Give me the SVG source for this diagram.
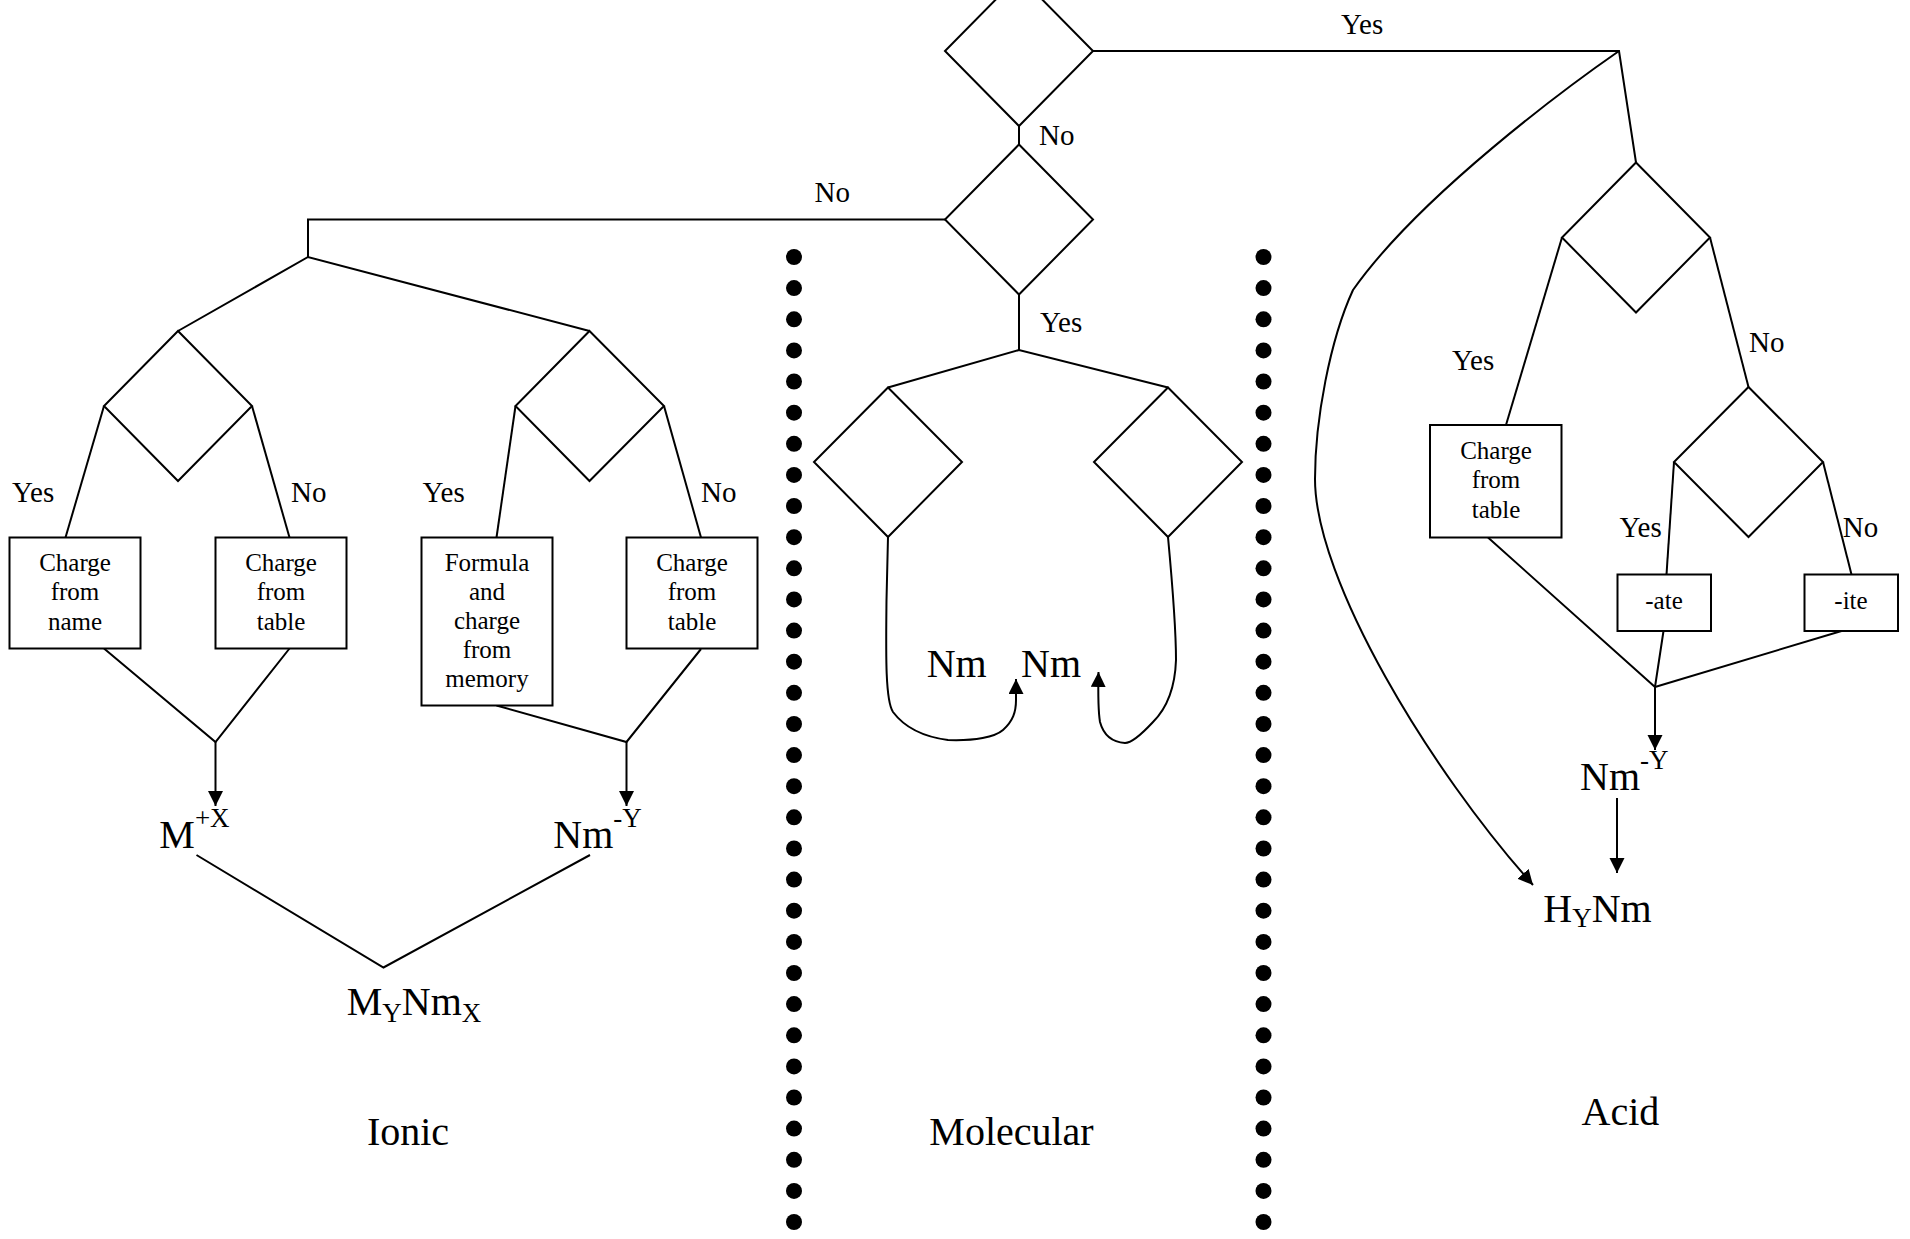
<svg xmlns="http://www.w3.org/2000/svg" width="1910" height="1239" viewBox="0 0 1910 1239">
<style>
  .shape{fill:#fff;stroke:#000;stroke-width:2}
  .ln{fill:none;stroke:#000;stroke-width:2}
  text{font-family:"Liberation Serif","Times New Roman",serif;fill:#000}
  .bt{font-size:25px;text-anchor:middle}
  .lb{font-size:29px}
  .big{font-size:40px}
  .sm{font-size:27px}
</style>
<defs>
  <marker id="arr" markerUnits="userSpaceOnUse" markerWidth="16" markerHeight="16" refX="15" refY="7.5" orient="auto">
    <path d="M0,0 L15,7.5 L0,15 z" fill="#000"/>
  </marker>
  <circle id="dot" r="8" fill="#000"/>
</defs>
<rect width="1910" height="1239" fill="#fff"/>

<g id="connectors">
  <path class="ln" d="M1019,126 L1019,144.5"/>
  <path class="ln" d="M1093,51 L1619,51 L1636,162.5"/>
  <path class="ln" marker-end="url(#arr)" d="M1619,51 C1570,85 1420,195 1353,290 C1330,340 1315,420 1315,479 C1315,580 1430,770 1533,885"/>
  <path class="ln" d="M945,219.5 L308,219.5 L308,257"/>
  <path class="ln" d="M178,331 L308,257 L589.5,331"/>
  <path class="ln" d="M104,406 L65.5,537.5"/>
  <path class="ln" d="M252,406 L289.5,537.5"/>
  <path class="ln" d="M515.5,406 L496.5,537.5"/>
  <path class="ln" d="M664,406 L701,537.5"/>
  <path class="ln" d="M104,648.5 L215.5,742 L289.5,648.5"/>
  <path class="ln" marker-end="url(#arr)" d="M215.5,742 L215.5,806"/>
  <path class="ln" d="M496.5,705.5 L626.5,742 L701,649"/>
  <path class="ln" marker-end="url(#arr)" d="M626.5,742 L626.5,806"/>
  <path class="ln" d="M196.5,855 L383.5,967.5 L590,855"/>
  <path class="ln" d="M1019,294.5 L1019,350"/>
  <path class="ln" d="M888,387.5 L1019,350 L1168,387.5"/>
  <path class="ln" marker-end="url(#arr)" d="M888,537 L886.5,600 C886,650 885,700 893,712 C905,728 925,737 948,740 C975,741 995,737 1003,730 C1013,721 1016,712 1016,700 L1016,679"/>
  <path class="ln" marker-end="url(#arr)" d="M1168,537 C1172,580 1176,630 1176,660 C1175,690 1165,710 1153,722 C1140,736 1130,743 1125,743 C1110,742 1103,733 1100,722 C1098,710 1098,695 1098.5,672"/>
  <path class="ln" d="M1562,237.5 L1506,425"/>
  <path class="ln" d="M1710,237.5 L1748.5,387"/>
  <path class="ln" d="M1674,462 L1666.5,574.5"/>
  <path class="ln" d="M1823,462 L1851.5,574.5"/>
  <path class="ln" d="M1488,537.5 L1655,687 L1663.5,631"/>
  <path class="ln" d="M1655,687 L1841.5,631"/>
  <path class="ln" marker-end="url(#arr)" d="M1655,687 L1655,750"/>
  <path class="ln" marker-end="url(#arr)" d="M1617,798 L1617,873"/>
</g>

<g id="separators">
  <g id="sep-left">
    <use href="#dot" x="794" y="257"/><use href="#dot" x="794" y="288.1"/><use href="#dot" x="794" y="319.3"/><use href="#dot" x="794" y="350.4"/>
    <use href="#dot" x="794" y="381.5"/><use href="#dot" x="794" y="412.7"/><use href="#dot" x="794" y="443.8"/><use href="#dot" x="794" y="474.9"/>
    <use href="#dot" x="794" y="506"/><use href="#dot" x="794" y="537.2"/><use href="#dot" x="794" y="568.3"/><use href="#dot" x="794" y="599.4"/>
    <use href="#dot" x="794" y="630.6"/><use href="#dot" x="794" y="661.7"/><use href="#dot" x="794" y="692.8"/><use href="#dot" x="794" y="724"/>
    <use href="#dot" x="794" y="755.1"/><use href="#dot" x="794" y="786.2"/><use href="#dot" x="794" y="817.3"/><use href="#dot" x="794" y="848.5"/>
    <use href="#dot" x="794" y="879.6"/><use href="#dot" x="794" y="910.7"/><use href="#dot" x="794" y="941.9"/><use href="#dot" x="794" y="973"/>
    <use href="#dot" x="794" y="1004.1"/><use href="#dot" x="794" y="1035.3"/><use href="#dot" x="794" y="1066.4"/><use href="#dot" x="794" y="1097.5"/>
    <use href="#dot" x="794" y="1128.6"/><use href="#dot" x="794" y="1159.8"/><use href="#dot" x="794" y="1190.9"/><use href="#dot" x="794" y="1222"/>
  </g>
  <g id="sep-right">
    <use href="#dot" x="1263.5" y="257"/><use href="#dot" x="1263.5" y="288.1"/><use href="#dot" x="1263.5" y="319.3"/><use href="#dot" x="1263.5" y="350.4"/>
    <use href="#dot" x="1263.5" y="381.5"/><use href="#dot" x="1263.5" y="412.7"/><use href="#dot" x="1263.5" y="443.8"/><use href="#dot" x="1263.5" y="474.9"/>
    <use href="#dot" x="1263.5" y="506"/><use href="#dot" x="1263.5" y="537.2"/><use href="#dot" x="1263.5" y="568.3"/><use href="#dot" x="1263.5" y="599.4"/>
    <use href="#dot" x="1263.5" y="630.6"/><use href="#dot" x="1263.5" y="661.7"/><use href="#dot" x="1263.5" y="692.8"/><use href="#dot" x="1263.5" y="724"/>
    <use href="#dot" x="1263.5" y="755.1"/><use href="#dot" x="1263.5" y="786.2"/><use href="#dot" x="1263.5" y="817.3"/><use href="#dot" x="1263.5" y="848.5"/>
    <use href="#dot" x="1263.5" y="879.6"/><use href="#dot" x="1263.5" y="910.7"/><use href="#dot" x="1263.5" y="941.9"/><use href="#dot" x="1263.5" y="973"/>
    <use href="#dot" x="1263.5" y="1004.1"/><use href="#dot" x="1263.5" y="1035.3"/><use href="#dot" x="1263.5" y="1066.4"/><use href="#dot" x="1263.5" y="1097.5"/>
    <use href="#dot" x="1263.5" y="1128.6"/><use href="#dot" x="1263.5" y="1159.8"/><use href="#dot" x="1263.5" y="1190.9"/><use href="#dot" x="1263.5" y="1222"/>
  </g>
</g>

<g id="labels">
  <text class="lb" x="1341" y="33.5">Yes</text>
  <text class="lb" x="1039" y="145">No</text>
  <text class="lb" x="814.5" y="201.5">No</text>
  <text class="lb" x="1040" y="332">Yes</text>
  <text class="lb" x="12" y="501.5">Yes</text>
  <text class="lb" x="291" y="501.5">No</text>
  <text class="lb" x="422.5" y="501.5">Yes</text>
  <text class="lb" x="701" y="501.5">No</text>
  <text class="lb" x="1452" y="370">Yes</text>
  <text class="lb" x="1749" y="352">No</text>
  <text class="lb" x="1619.5" y="537.3">Yes</text>
  <text class="lb" x="1842.7" y="537.3">No</text>
</g>

<g id="d-top"><polygon class="shape" points="1019,-24 1093,51 1019,126 945,51"/></g>
<g id="d-second"><polygon class="shape" points="1019,144.5 1093,219.5 1019,294.5 945,219.5"/></g>
<g id="d-ionic-left"><polygon class="shape" points="178,331 252,406 178,481 104,406"/></g>
<g id="d-ionic-right"><polygon class="shape" points="589.5,331 664,406 589.5,481 515.5,406"/></g>
<g id="d-mol-left"><polygon class="shape" points="888,387.5 962,462 888,537 814,462"/></g>
<g id="d-mol-right"><polygon class="shape" points="1168,387.5 1242,462 1168,537 1094,462"/></g>
<g id="d-acid-1"><polygon class="shape" points="1636,162.5 1710,237.5 1636,312.5 1562,237.5"/></g>
<g id="d-acid-2"><polygon class="shape" points="1748.5,387 1823,462 1748.5,537 1674,462"/></g>

<g id="box-charge-name">
  <rect class="shape" x="9.5" y="537.5" width="131" height="111"/>
  <text class="bt" x="75" y="570.7">Charge</text>
  <text class="bt" x="75" y="600">from</text>
  <text class="bt" x="75" y="630">name</text>
</g>
<g id="box-charge-table-1">
  <rect class="shape" x="215.5" y="537.5" width="131" height="111"/>
  <text class="bt" x="281" y="570.7">Charge</text>
  <text class="bt" x="281" y="600">from</text>
  <text class="bt" x="281" y="630">table</text>
</g>
<g id="box-formula-memory">
  <rect class="shape" x="421.5" y="537.5" width="131" height="168"/>
  <text class="bt" x="487" y="570.7">Formula</text>
  <text class="bt" x="487" y="600">and</text>
  <text class="bt" x="487" y="629.3">charge</text>
  <text class="bt" x="487" y="658.3">from</text>
  <text class="bt" x="487" y="686.7">memory</text>
</g>
<g id="box-charge-table-2">
  <rect class="shape" x="626.5" y="537.5" width="131" height="111"/>
  <text class="bt" x="692" y="570.7">Charge</text>
  <text class="bt" x="692" y="600">from</text>
  <text class="bt" x="692" y="630">table</text>
</g>
<g id="box-charge-table-acid">
  <rect class="shape" x="1430" y="425" width="131.5" height="112.5"/>
  <text class="bt" x="1496" y="459.3">Charge</text>
  <text class="bt" x="1496" y="488.3">from</text>
  <text class="bt" x="1496" y="518.3">table</text>
</g>
<g id="box-ate">
  <rect class="shape" x="1617.5" y="574.5" width="93.5" height="56.5"/>
  <text class="bt" x="1664" y="608.5">-ate</text>
</g>
<g id="box-ite">
  <rect class="shape" x="1804.5" y="574.5" width="93.5" height="56.5"/>
  <text class="bt" x="1851" y="608.5">-ite</text>
</g>

<g id="ion-metal"><text class="big" x="159.3" y="847.7">M<tspan class="sm" y="826.7">+X</tspan></text></g>
<g id="ion-nonmetal"><text class="big" x="553.3" y="847.7">Nm<tspan class="sm" y="826.7">-Y</tspan></text></g>
<g id="ionic-formula"><text class="big" x="346.7" y="1015">M<tspan class="sm" y="1021.7">Y</tspan><tspan y="1015">Nm</tspan><tspan class="sm" y="1021.7">X</tspan></text></g>
<g id="mol-nm-1"><text class="big" x="926.7" y="677.3">Nm</text></g>
<g id="mol-nm-2"><text class="big" x="1021" y="677.3">Nm</text></g>
<g id="acid-anion"><text class="big" x="1580" y="790">Nm<tspan class="sm" y="769.3">-Y</tspan></text></g>
<g id="acid-formula"><text class="big" x="1543.3" y="921.7">H<tspan class="sm" y="926.7">Y</tspan><tspan y="921.7">Nm</tspan></text></g>

<g id="titles">
  <text class="big" x="408" y="1145" text-anchor="middle">Ionic</text>
  <text class="big" x="1011.5" y="1145" text-anchor="middle">Molecular</text>
  <text class="big" x="1620.5" y="1125" text-anchor="middle">Acid</text>
</g>
</svg>
